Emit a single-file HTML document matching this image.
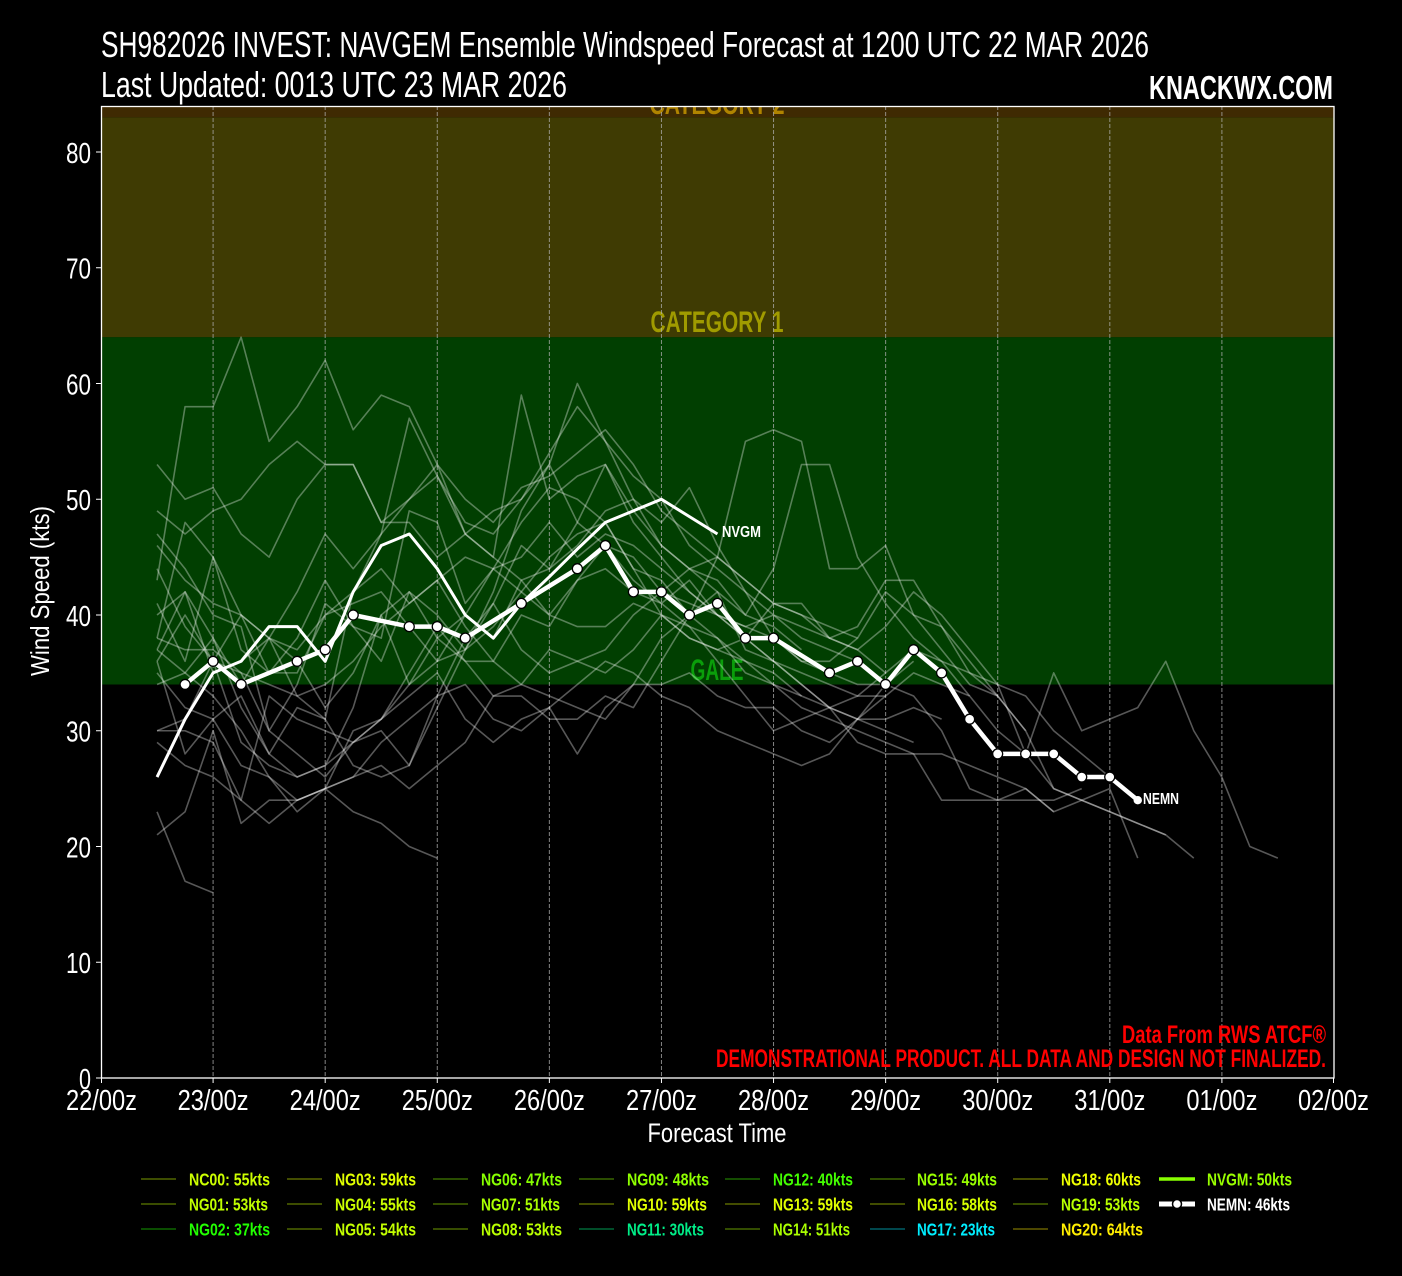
<!DOCTYPE html>
<html>
<head>
<meta charset="utf-8">
<style>
html,body{margin:0;padding:0;background:#000;}
svg{display:block;}
text{font-family:"Liberation Sans Narrow","Liberation Sans",sans-serif;}
</style>
</head>
<body>
<svg width="1402" height="1276" viewBox="0 0 1402 1276" xmlns="http://www.w3.org/2000/svg">
<defs>
<clipPath id="pc"><rect x="101" y="106" width="1233" height="972"/></clipPath>
</defs>
<rect x="0" y="0" width="1402" height="1276" fill="#000"/>

<!-- Titles -->
<text x="101" y="57" font-size="36" fill="#fff" textLength="1048" lengthAdjust="spacingAndGlyphs">SH982026 INVEST: NAVGEM Ensemble Windspeed Forecast at 1200 UTC 22 MAR 2026</text>
<text x="101" y="97" font-size="36" fill="#fff" textLength="466" lengthAdjust="spacingAndGlyphs">Last Updated: 0013 UTC 23 MAR 2026</text>
<text x="1149" y="99" font-size="33" font-weight="bold" fill="#fff" textLength="184" lengthAdjust="spacingAndGlyphs">KNACKWX.COM</text>

<!-- Bands -->
<g clip-path="url(#pc)">
<rect x="101" y="100" width="1233" height="17.3" fill="#3f2a02"/>
<rect x="101" y="117.3" width="1233" height="220" fill="#3f3b03"/>
<rect x="101" y="337.2" width="1233" height="347.3" fill="#013f01"/>
<text x="717" y="114" font-size="30" font-weight="bold" fill="#b08400" text-anchor="middle" textLength="135" lengthAdjust="spacingAndGlyphs">CATEGORY 2</text>
</g>
<text x="717" y="332" font-size="30" font-weight="bold" fill="#a09b00" text-anchor="middle" textLength="133" lengthAdjust="spacingAndGlyphs">CATEGORY 1</text>
<text x="717" y="680" font-size="30" font-weight="bold" fill="#0a9e0a" text-anchor="middle" textLength="53" lengthAdjust="spacingAndGlyphs">GALE</text>

<!-- Grid -->
<g stroke="#b0b0b0" stroke-opacity="0.75" stroke-width="1" stroke-dasharray="4,2">
<line x1="213.09" y1="106" x2="213.09" y2="1078"/>
<line x1="325.18" y1="106" x2="325.18" y2="1078"/>
<line x1="437.27" y1="106" x2="437.27" y2="1078"/>
<line x1="549.36" y1="106" x2="549.36" y2="1078"/>
<line x1="661.45" y1="106" x2="661.45" y2="1078"/>
<line x1="773.54" y1="106" x2="773.54" y2="1078"/>
<line x1="885.63" y1="106" x2="885.63" y2="1078"/>
<line x1="997.72" y1="106" x2="997.72" y2="1078"/>
<line x1="1109.81" y1="106" x2="1109.81" y2="1078"/>
<line x1="1221.9" y1="106" x2="1221.9" y2="1078"/>
</g>

<!-- Ensemble members -->
<g transform="translate(157.05 1078) scale(28.02 -11.575)" fill="none" stroke="#ffffff" stroke-opacity="0.34" stroke-width="1.6" stroke-linejoin="round">
<polyline vector-effect="non-scaling-stroke" points="0,43 1,58 2,58 3,64 4,55 5,58 6,62 7,56 8,59 9,58 10,53 11,47 12,45 13,43 14,44 15,46 16,49 17,50 18,46 19,44 20,43 21,40 22,39 23,37"/>
<polyline vector-effect="non-scaling-stroke" points="0,53 1,50 2,51 3,47 4,45 5,50 6,53 7,53 8,48 9,48 10,45 11,47 12,49 13,50 14,53 15,60 16,55 17,52 18,50 19,46 20,44 21,42 22,40 23,38 24,37 25,36"/>
<polyline vector-effect="non-scaling-stroke" points="0,49 1,47 2,49 3,50 4,53 5,55 6,53 7,53 8,48 9,50 10,53 11,50 12,48 13,51 14,52 15,54 16,56 17,53 18,49 19,47 20,45 21,43 22,41 23,40 24,38 25,37 26,35"/>
<polyline vector-effect="non-scaling-stroke" points="0,38 1,48 2,45 3,40 4,38 5,42 6,47 7,44 8,47 9,57 10,52 11,47 12,45 13,59 14,50 15,52 16,53 17,49 18,46 19,44 20,45 21,43 22,41 23,40 24,39 25,38"/>
<polyline vector-effect="non-scaling-stroke" points="0,41 1,36 2,45 3,37 4,35 5,38 6,43 7,39 8,38 9,49 10,48 11,41 12,44 13,45 14,48 15,45 16,47 17,46 18,44 19,42 20,40 21,38 22,36 23,35 24,34 25,33 26,33"/>
<polyline vector-effect="non-scaling-stroke" points="0,47 1,44 2,40 3,39 4,30 5,34 6,41 7,39 8,36 9,42 10,40 11,37 12,39 13,42 14,45 15,47 16,48 17,44 18,43 19,40 20,38 21,36 22,35 23,33"/>
<polyline vector-effect="non-scaling-stroke" points="0,36 1,40 2,36 3,40 4,35 5,35 6,40 7,41 8,42 9,39 10,36 11,37 12,41 13,46 14,44 15,48 16,53 17,48 18,45 19,42 20,40 21,39 22,38 23,36 24,35 25,34 26,34 27,36"/>
<polyline vector-effect="non-scaling-stroke" points="0,37 1,42 2,35 3,36 4,38 5,33 6,31 7,42 8,44 9,41 10,43 11,39 12,36 13,40 14,39 15,43 16,44 17,42 18,41 19,43 20,40 21,38 22,36 23,34 24,32 25,31 26,31 27,32 28,31"/>
<polyline vector-effect="non-scaling-stroke" points="0,35 1,32 2,31 3,33 4,28 5,26 6,27 7,32 8,40 9,34 10,38 11,40 12,38 13,43 14,40 15,39 16,39 17,41 18,40 19,38 20,37 21,36 22,34 23,33 24,32 25,33 26,35 27,37 28,36 29,35 30,34 31,33 32,30 33,28 34,26"/>
<polyline vector-effect="non-scaling-stroke" points="0,30 1,30 2,29 3,24 4,33 5,31 6,30 7,29 8,30 9,27 10,33 11,34 12,31 13,30 14,32 15,34 16,36 17,35 18,33 19,32 20,30 21,29 22,28 23,27 24,28 25,31 26,33 27,35 28,34 29,33 30,30 31,28 32,25 33,24 34,23 35,22 36,21"/>
<polyline vector-effect="non-scaling-stroke" points="0,29 1,27 2,26 3,24 4,22 5,24 6,25 7,26 8,29 9,31 10,33 11,38 12,41 13,37 14,35 15,36 16,37 17,40 18,42 19,41 20,40 21,39 22,40 23,39 24,38 25,37 26,39 27,42 28,40 29,37 30,34 31,28 32,35 33,30 34,31 35,32 36,36 37,30 38,26 39,20 40,19"/>
<polyline vector-effect="non-scaling-stroke" points="0,23 1,17 2,16"/>
<polyline vector-effect="non-scaling-stroke" points="0,21 1,23 2,30 3,22 4,24 5,24 6,25 7,23 8,22 9,20 10,19"/>
<polyline vector-effect="non-scaling-stroke" points="0,36 1,28 2,31 3,27 4,26 5,23 6,25 7,30 8,31 9,33 10,35 11,31 12,29 13,31 14,32 15,28 16,32 17,34 18,34 19,35 20,33 21,32 22,32 23,30 24,29 25,31 26,34 27,33 28,30 29,25 30,24 31,24 32,24 33,25"/>
<polyline vector-effect="non-scaling-stroke" points="0,40 1,42 2,38 3,34 4,38 5,36 6,32 7,35 8,40 9,42 10,38 11,36 12,36 13,34 14,33 15,32 16,31 17,34 18,38 19,40 20,42 21,37 22,36 23,34 24,32 25,31 26,30 27,29"/>
<polyline vector-effect="non-scaling-stroke" points="0,34 1,35 2,38 3,32 4,28 5,32 6,31 7,27 8,26 9,27 10,32 11,37 12,42 13,49 14,53 15,48 16,46 17,43 18,41 19,39 20,38 21,35 22,34 23,32 24,31 25,30 26,29 27,28 28,28 29,27 30,26 31,25 32,23 33,24 34,25 35,19"/>
<polyline vector-effect="non-scaling-stroke" points="0,30 1,31 2,36 3,29 4,27 5,26 6,27 7,29 8,31 9,35 10,39 11,36 12,33 13,33 14,31 15,31 16,33 17,32 18,36 19,40 20,45 21,55 22,56 23,55 24,44 25,44 26,46 27,40 28,37 29,34 30,33 31,30"/>
<polyline vector-effect="non-scaling-stroke" points="0,37 1,35 2,33 3,30 4,26 5,24 6,25 7,26 8,27 9,25 10,27 11,29 12,33 13,34 14,37 15,36 16,35 17,37 18,40 19,38 20,37 21,38 22,41 23,41 24,38 25,39 26,43 27,43 28,39 29,35 30,33"/>
<polyline vector-effect="non-scaling-stroke" points="0,44 1,39 2,36 3,35 4,30 5,28 6,26 7,29 8,31 9,34 10,36 11,40 12,44 13,42 14,40 15,43 16,46 17,45 18,42 19,44 20,42 21,40 22,44 23,53 24,53 25,45 26,41 27,38 28,36 29,33"/>
<polyline vector-effect="non-scaling-stroke" points="0,46 1,43 2,41 3,40 4,38 5,37 6,40 7,42 8,47 9,50 10,52 11,48 12,47 13,50 14,54 15,58 16,55 17,50 18,48 19,51 20,46 21,42 22,38 23,36 24,36 25,38 26,42 27,40 28,39 29,36 30,33 31,30 32,25 33,24 34,23 35,22 36,21 37,19"/>
<polyline vector-effect="non-scaling-stroke" points="0,38 1,37 2,37 3,35 4,34 5,33 6,34 7,36 8,39 9,41 10,43 11,45 12,44 13,48 14,51 15,50 16,48 17,44 18,40 19,39 20,36 21,33 22,30 23,31 24,32 25,29 26,28 27,28 28,24 29,24 30,24 31,25 32,23"/>
<!-- NVGM -->
<polyline vector-effect="non-scaling-stroke" stroke-opacity="1" stroke-width="3" points="0,26 1,31 2,35 3,36 4,39 5,39 6,36 7,42 8,46 9,47 10,44 11,40 12,38 13,41 14,43.3 15,45.7 16,48 17,49 18,50 19,48.5 20,47"/>
</g>

<!-- NEMN -->
<polyline fill="none" stroke="#fff" stroke-width="4.5" stroke-linejoin="round" points="185.07,684.45 213.09,661.3 241.11,684.45 297.15,661.3 325.17,649.7 353.19,615 409.23,626.6 437.25,626.6 465.27,638.15 521.31,603.4 577.35,568.7 605.37,545.55 633.39,591.85 661.41,591.85 689.43,615 717.45,603.4 745.47,638.15 773.49,638.15 829.53,672.9 857.55,661.3 885.57,684.45 913.59,649.7 941.61,672.9 969.63,719.2 997.65,753.9 1025.67,753.9 1053.69,753.9 1081.71,777.05 1109.73,777.05 1137.75,800.2"/>
<g fill="#fff" stroke="#000" stroke-width="1.3">
<circle cx="185.07" cy="684.45" r="5"/>
<circle cx="213.09" cy="661.3" r="5"/>
<circle cx="241.11" cy="684.45" r="5"/>
<circle cx="297.15" cy="661.3" r="5"/>
<circle cx="325.17" cy="649.7" r="5"/>
<circle cx="353.19" cy="615" r="5"/>
<circle cx="409.23" cy="626.6" r="5"/>
<circle cx="437.25" cy="626.6" r="5"/>
<circle cx="465.27" cy="638.15" r="5"/>
<circle cx="521.31" cy="603.4" r="5"/>
<circle cx="577.35" cy="568.7" r="5"/>
<circle cx="605.37" cy="545.55" r="5"/>
<circle cx="633.39" cy="591.85" r="5"/>
<circle cx="661.41" cy="591.85" r="5"/>
<circle cx="689.43" cy="615" r="5"/>
<circle cx="717.45" cy="603.4" r="5"/>
<circle cx="745.47" cy="638.15" r="5"/>
<circle cx="773.49" cy="638.15" r="5"/>
<circle cx="829.53" cy="672.9" r="5"/>
<circle cx="857.55" cy="661.3" r="5"/>
<circle cx="885.57" cy="684.45" r="5"/>
<circle cx="913.59" cy="649.7" r="5"/>
<circle cx="941.61" cy="672.9" r="5"/>
<circle cx="969.63" cy="719.2" r="5"/>
<circle cx="997.65" cy="753.9" r="5"/>
<circle cx="1025.67" cy="753.9" r="5"/>
<circle cx="1053.69" cy="753.9" r="5"/>
<circle cx="1081.71" cy="777.05" r="5"/>
<circle cx="1109.73" cy="777.05" r="5"/>
</g>
<circle cx="1137.75" cy="800.2" r="4.2" fill="#fff"/>

<text x="722" y="537" font-size="16" font-weight="bold" fill="#fff" textLength="39" lengthAdjust="spacingAndGlyphs">NVGM</text>
<text x="1143" y="804" font-size="16" font-weight="bold" fill="#fff" textLength="36" lengthAdjust="spacingAndGlyphs">NEMN</text>

<!-- Red notes -->
<text x="1326" y="1043" font-size="25" font-weight="bold" fill="#ff0000" text-anchor="end" textLength="204" lengthAdjust="spacingAndGlyphs">Data From RWS ATCF®</text>
<text x="1326" y="1067" font-size="25" font-weight="bold" fill="#ff0000" text-anchor="end" textLength="610" lengthAdjust="spacingAndGlyphs">DEMONSTRATIONAL PRODUCT. ALL DATA AND DESIGN NOT FINALIZED.</text>

<!-- Frame -->
<rect x="101.5" y="106.5" width="1232.5" height="971.5" fill="none" stroke="#fff" stroke-width="1.3"/>

<!-- Y ticks -->
<g stroke="#fff" stroke-width="1">
<line x1="96" y1="1078" x2="101" y2="1078"/>
<line x1="96" y1="962.25" x2="101" y2="962.25"/>
<line x1="96" y1="846.5" x2="101" y2="846.5"/>
<line x1="96" y1="730.75" x2="101" y2="730.75"/>
<line x1="96" y1="615" x2="101" y2="615"/>
<line x1="96" y1="499.25" x2="101" y2="499.25"/>
<line x1="96" y1="383.5" x2="101" y2="383.5"/>
<line x1="96" y1="267.75" x2="101" y2="267.75"/>
<line x1="96" y1="152" x2="101" y2="152"/>
</g>
<g font-size="29" fill="#fff" text-anchor="end">
<text x="91" y="1089" textLength="12" lengthAdjust="spacingAndGlyphs">0</text>
<text x="91" y="973" textLength="25" lengthAdjust="spacingAndGlyphs">10</text>
<text x="91" y="857.5" textLength="25" lengthAdjust="spacingAndGlyphs">20</text>
<text x="91" y="741.5" textLength="25" lengthAdjust="spacingAndGlyphs">30</text>
<text x="91" y="626" textLength="25" lengthAdjust="spacingAndGlyphs">40</text>
<text x="91" y="510" textLength="25" lengthAdjust="spacingAndGlyphs">50</text>
<text x="91" y="394.5" textLength="25" lengthAdjust="spacingAndGlyphs">60</text>
<text x="91" y="278.5" textLength="25" lengthAdjust="spacingAndGlyphs">70</text>
<text x="91" y="163" textLength="25" lengthAdjust="spacingAndGlyphs">80</text>
</g>

<!-- X ticks -->
<g stroke="#fff" stroke-width="1">
<line x1="101.5" y1="1078" x2="101.5" y2="1083"/>
<line x1="213.09" y1="1078" x2="213.09" y2="1083"/>
<line x1="325.18" y1="1078" x2="325.18" y2="1083"/>
<line x1="437.27" y1="1078" x2="437.27" y2="1083"/>
<line x1="549.36" y1="1078" x2="549.36" y2="1083"/>
<line x1="661.45" y1="1078" x2="661.45" y2="1083"/>
<line x1="773.54" y1="1078" x2="773.54" y2="1083"/>
<line x1="885.63" y1="1078" x2="885.63" y2="1083"/>
<line x1="997.72" y1="1078" x2="997.72" y2="1083"/>
<line x1="1109.81" y1="1078" x2="1109.81" y2="1083"/>
<line x1="1221.9" y1="1078" x2="1221.9" y2="1083"/>
<line x1="1333.5" y1="1078" x2="1333.5" y2="1083"/>
</g>
<g font-size="29" fill="#fff" text-anchor="middle">
<text x="101.5" y="1110" textLength="71" lengthAdjust="spacingAndGlyphs">22/00z</text>
<text x="213.09" y="1110" textLength="71" lengthAdjust="spacingAndGlyphs">23/00z</text>
<text x="325.18" y="1110" textLength="71" lengthAdjust="spacingAndGlyphs">24/00z</text>
<text x="437.27" y="1110" textLength="71" lengthAdjust="spacingAndGlyphs">25/00z</text>
<text x="549.36" y="1110" textLength="71" lengthAdjust="spacingAndGlyphs">26/00z</text>
<text x="661.45" y="1110" textLength="71" lengthAdjust="spacingAndGlyphs">27/00z</text>
<text x="773.54" y="1110" textLength="71" lengthAdjust="spacingAndGlyphs">28/00z</text>
<text x="885.63" y="1110" textLength="71" lengthAdjust="spacingAndGlyphs">29/00z</text>
<text x="997.72" y="1110" textLength="71" lengthAdjust="spacingAndGlyphs">30/00z</text>
<text x="1109.81" y="1110" textLength="71" lengthAdjust="spacingAndGlyphs">31/00z</text>
<text x="1221.9" y="1110" textLength="71" lengthAdjust="spacingAndGlyphs">01/00z</text>
<text x="1333.5" y="1110" textLength="71" lengthAdjust="spacingAndGlyphs">02/00z</text>
</g>

<!-- Axis labels -->
<text x="717" y="1142" font-size="27" fill="#fff" text-anchor="middle" textLength="139" lengthAdjust="spacingAndGlyphs">Forecast Time</text>
<text transform="translate(49 591) rotate(-90)" x="0" y="0" font-size="26" fill="#fff" text-anchor="middle" textLength="170" lengthAdjust="spacingAndGlyphs">Wind Speed (kts)</text>

<!-- Legend -->
<g stroke-width="2">
<line x1="141" y1="1179" x2="176" y2="1179" stroke="#3d4d00"/>
<line x1="141" y1="1204" x2="176" y2="1204" stroke="#3a4d00"/>
<line x1="141" y1="1229" x2="176" y2="1229" stroke="#0a4d00"/>
<line x1="287" y1="1179" x2="322" y2="1179" stroke="#434d00"/>
<line x1="287" y1="1204" x2="322" y2="1204" stroke="#3d4d00"/>
<line x1="287" y1="1229" x2="322" y2="1229" stroke="#3b4d00"/>
<line x1="433" y1="1179" x2="468" y2="1179" stroke="#294d00"/>
<line x1="433" y1="1204" x2="468" y2="1204" stroke="#334d00"/>
<line x1="433" y1="1229" x2="468" y2="1229" stroke="#374d00"/>
<line x1="579" y1="1179" x2="614" y2="1179" stroke="#2b4d00"/>
<line x1="579" y1="1204" x2="614" y2="1204" stroke="#434d00"/>
<line x1="579" y1="1229" x2="614" y2="1229" stroke="#004d29"/>
<line x1="725" y1="1179" x2="760" y2="1179" stroke="#144d00"/>
<line x1="725" y1="1204" x2="760" y2="1204" stroke="#434d00"/>
<line x1="725" y1="1229" x2="760" y2="1229" stroke="#334d00"/>
<line x1="870" y1="1179" x2="905" y2="1179" stroke="#2e4d00"/>
<line x1="870" y1="1204" x2="905" y2="1204" stroke="#414d00"/>
<line x1="870" y1="1229" x2="905" y2="1229" stroke="#00474d"/>
<line x1="1013" y1="1179" x2="1048" y2="1179" stroke="#474d00"/>
<line x1="1013" y1="1204" x2="1048" y2="1204" stroke="#374d00"/>
<line x1="1013" y1="1229" x2="1048" y2="1229" stroke="#4d4700"/>
</g>
<line x1="1159" y1="1179" x2="1195" y2="1179" stroke="#88ff00" stroke-width="3.5"/>
<line x1="1159" y1="1204" x2="1195" y2="1204" stroke="#fff" stroke-width="5"/>
<circle cx="1177" cy="1204" r="4.5" fill="#fff" stroke="#000" stroke-width="1.5"/>

<g font-size="17.5" font-weight="bold">
<text x="189" y="1185.5" fill="#ccff00" textLength="81" lengthAdjust="spacingAndGlyphs">NC00: 55kts</text>
<text x="189" y="1210.5" fill="#c0ff00" textLength="79" lengthAdjust="spacingAndGlyphs">NG01: 53kts</text>
<text x="189" y="1235.5" fill="#22ff00" textLength="81" lengthAdjust="spacingAndGlyphs">NG02: 37kts</text>
<text x="335" y="1185.5" fill="#e0ff00" textLength="81" lengthAdjust="spacingAndGlyphs">NG03: 59kts</text>
<text x="335" y="1210.5" fill="#ccff00" textLength="81" lengthAdjust="spacingAndGlyphs">NG04: 55kts</text>
<text x="335" y="1235.5" fill="#c4ff00" textLength="81" lengthAdjust="spacingAndGlyphs">NG05: 54kts</text>
<text x="481" y="1185.5" fill="#88ff00" textLength="81" lengthAdjust="spacingAndGlyphs">NG06: 47kts</text>
<text x="481" y="1210.5" fill="#aaff00" textLength="79" lengthAdjust="spacingAndGlyphs">NG07: 51kts</text>
<text x="481" y="1235.5" fill="#b8ff00" textLength="81" lengthAdjust="spacingAndGlyphs">NG08: 53kts</text>
<text x="627" y="1185.5" fill="#8fff00" textLength="82" lengthAdjust="spacingAndGlyphs">NG09: 48kts</text>
<text x="627" y="1210.5" fill="#e0ff00" textLength="80" lengthAdjust="spacingAndGlyphs">NG10: 59kts</text>
<text x="627" y="1235.5" fill="#00ee88" textLength="77" lengthAdjust="spacingAndGlyphs">NG11: 30kts</text>
<text x="773" y="1185.5" fill="#44ff00" textLength="80" lengthAdjust="spacingAndGlyphs">NG12: 40kts</text>
<text x="773" y="1210.5" fill="#e0ff00" textLength="80" lengthAdjust="spacingAndGlyphs">NG13: 59kts</text>
<text x="773" y="1235.5" fill="#aaff00" textLength="77" lengthAdjust="spacingAndGlyphs">NG14: 51kts</text>
<text x="917" y="1185.5" fill="#99ff00" textLength="80" lengthAdjust="spacingAndGlyphs">NG15: 49kts</text>
<text x="917" y="1210.5" fill="#d8ff00" textLength="80" lengthAdjust="spacingAndGlyphs">NG16: 58kts</text>
<text x="917" y="1235.5" fill="#00eeff" textLength="78" lengthAdjust="spacingAndGlyphs">NG17: 23kts</text>
<text x="1061" y="1185.5" fill="#eeff00" textLength="80" lengthAdjust="spacingAndGlyphs">NG18: 60kts</text>
<text x="1061" y="1210.5" fill="#b8ff00" textLength="79" lengthAdjust="spacingAndGlyphs">NG19: 53kts</text>
<text x="1061" y="1235.5" fill="#ffee00" textLength="82" lengthAdjust="spacingAndGlyphs">NG20: 64kts</text>
<text x="1207" y="1185.5" fill="#99ff00" textLength="85" lengthAdjust="spacingAndGlyphs">NVGM: 50kts</text>
<text x="1207" y="1210.5" fill="#ffffff" textLength="83" lengthAdjust="spacingAndGlyphs">NEMN: 46kts</text>
</g>
</svg>
</body>
</html>
